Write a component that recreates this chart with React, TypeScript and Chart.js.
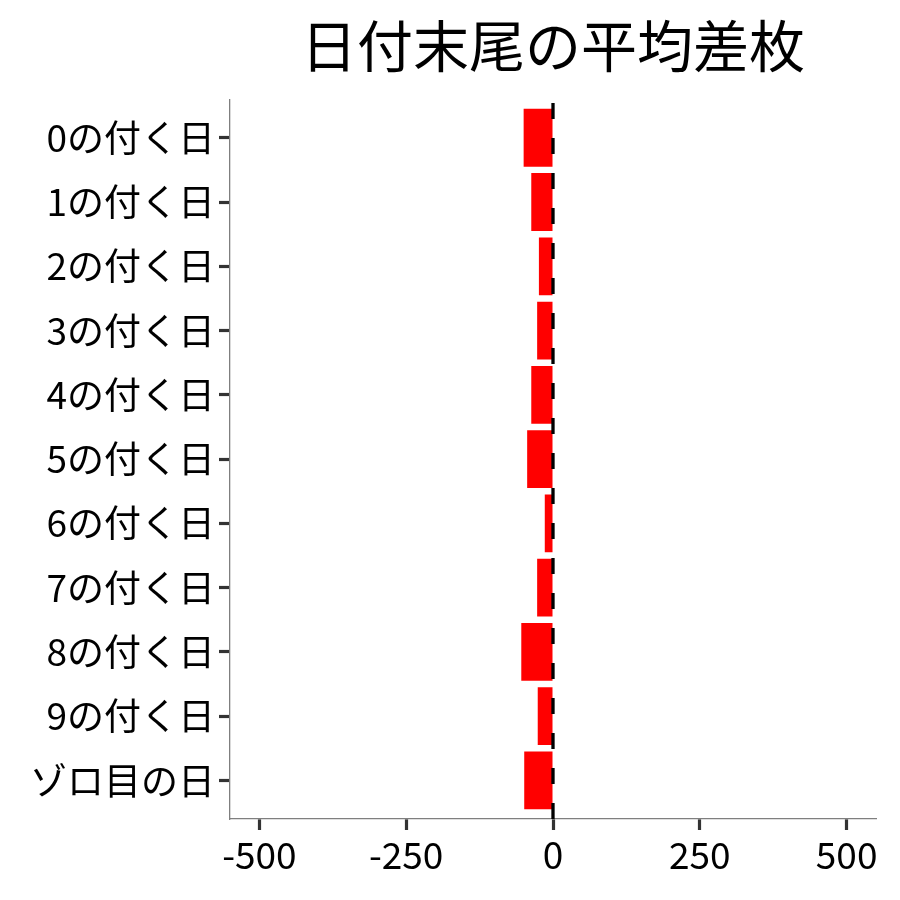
import { useEffect, useRef } from 'react';
import { Chart, registerables } from 'chart.js';

Chart.register(...registerables);

const categories = [
  '0の付く日', '1の付く日', '2の付く日', '3の付く日', '4の付く日', '5の付く日',
  '6の付く日', '7の付く日', '8の付く日', '9の付く日', 'ゾロ目の日',
];
const diffValues = [-50, -37, -24, -27, -37, -44, -14, -27, -54, -26, -49];
const xTicks = [-500, -250, 0, 250, 500];

const FONT = '"Noto Sans CJK JP", "Noto Sans", sans-serif';

// dashed zero line drawn bottom-up like ggplot's geom_vline
const zeroLine = {
  id: 'zeroLine',
  afterDatasetsDraw(chart: any) {
    const { ctx, chartArea, scales } = chart;
    const x = scales.x.getPixelForValue(0);
    ctx.save();
    ctx.strokeStyle = '#000';
    ctx.lineWidth = 3.3;
    ctx.setLineDash([16, 19]);
    ctx.beginPath();
    ctx.moveTo(x, chartArea.bottom);
    ctx.lineTo(x, chartArea.top);
    ctx.stroke();
    ctx.restore();
  },
};

export default function App() {
  const canvasRef = useRef<HTMLCanvasElement>(null);

  useEffect(() => {
    document.body.style.margin = '0';
    if (!canvasRef.current) return;

    const chart = new Chart(canvasRef.current, {
      type: 'bar',
      data: {
        datasets: [{
          data: diffValues.map((v, i) => ({ x: v, y: i })),
          backgroundColor: '#FF0000',
          borderWidth: 0,
          barPercentage: 0.9,
          categoryPercentage: 1,
        }],
      },
      plugins: [zeroLine],
      options: {
        indexAxis: 'y',
        animation: false,
        responsive: false,
        layout: { padding: { left: 0, right: 24, top: 0, bottom: 0 } },
        plugins: {
          legend:  { display: false },
          tooltip: { enabled: false },
          title: {
            display: true,
            text: '日付末尾の平均差枚',
            fullSize: false,
            color: '#000',
            font: { family: FONT, size: 56, weight: 'normal' },
            padding: { top: 12, bottom: 20 },
          },
        },
        scales: {
          x: {
            type: 'linear',
            min: -550,
            max: 550,
            afterBuildTicks: (s: any) => { s.ticks = xTicks.map(v => ({ value: v })); },
            afterFit: (s: any) => { s.height = 81; },
            grid: { drawOnChartArea: false, drawTicks: true, tickLength: 11, tickWidth: 3.2, tickColor: '#333' },
            border: { display: true, color: '#7f7f7f', width: 1.3 },
            ticks: { color: '#000', padding: 3, font: { family: FONT, size: 37 } },
          },
          y: {
            type: 'linear',
            min: -0.6,
            max: 10.6,
            reverse: true,
            offset: false,
            afterBuildTicks: (s: any) => { s.ticks = categories.map((_, i) => ({ value: i })); },
            afterFit: (s: any) => { s.width = 230; },
            grid: { offset: false, drawOnChartArea: false, drawTicks: true, tickLength: 11, tickWidth: 3.2, tickColor: '#333' },
            border: { display: true, color: '#7f7f7f', width: 1.3 },
            ticks: {
              color: '#000',
              padding: 4,
              font: { family: FONT, size: 37 },
              callback: (v: any) => categories[v as number] ?? '',
            },
          },
        },
      },
    });

    return () => { chart.destroy(); };
  }, []);

  return (
    <div style={{ width: 900, height: 900 }}>
      <canvas ref={canvasRef} width={900} height={900} />
    </div>
  );
}
